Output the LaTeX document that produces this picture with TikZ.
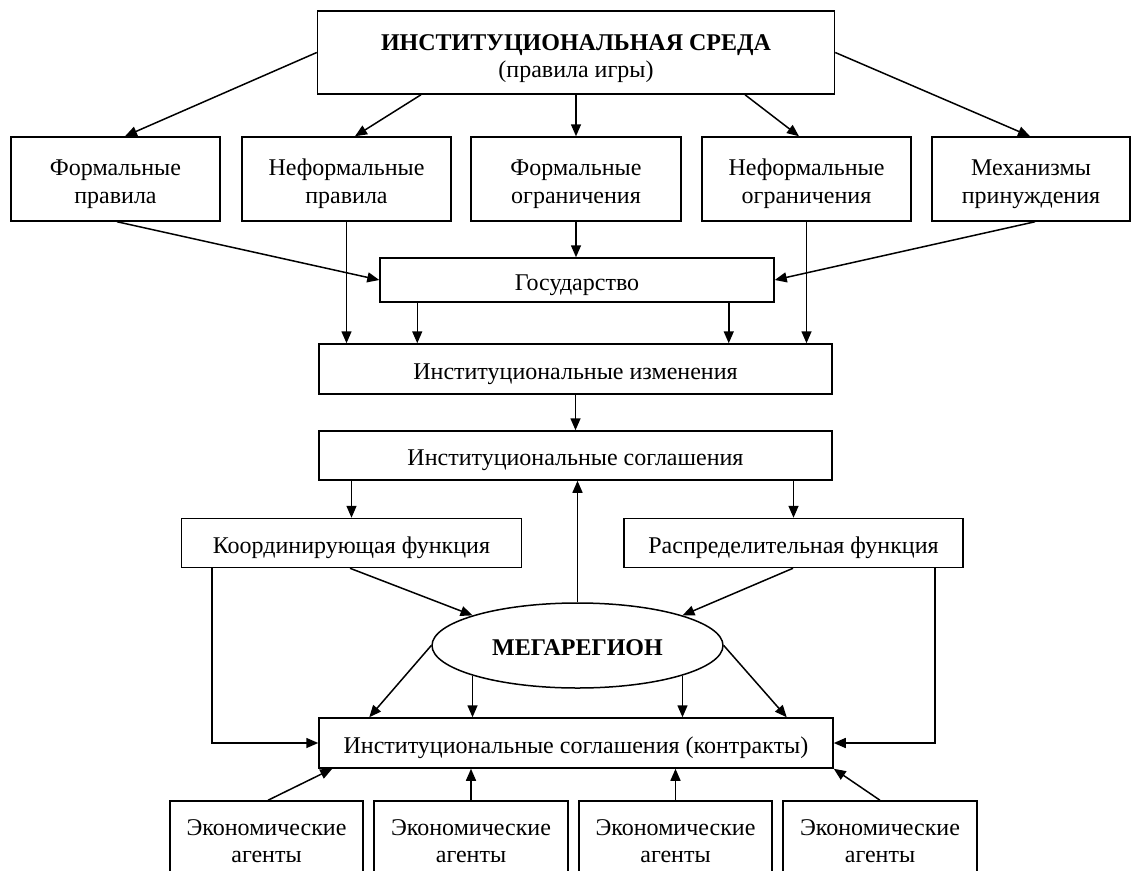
\documentclass[tikz,border=0pt]{standalone}
\usepackage{fontspec}
\setmainfont{Liberation Serif}
\usetikzlibrary{arrows.meta,shapes.geometric}
\newcommand{\lowtxt}[2][5pt]{\raisebox{-#1}[\height][\depth]{#2}}
\begin{document}
\begin{tikzpicture}[x=1pt,y=-1pt,
  bx/.style={draw, line width=1.5pt, inner sep=0pt, align=center, font=\fontsize{24}{27.6}\selectfont},
  ar/.style={-{Triangle[length=12pt,width=10pt]}, line width=1.5pt}]
\fill[white] (0,0) rectangle (1132,870);
\clip (0,0) rectangle (1132,870);

\node[bx, minimum width=517pt, minimum height=83pt] (top) at (576,52.5)
  {\lowtxt[6pt]{\bfseries ИНСТИТУЦИОНАЛЬНАЯ СРЕДА}\\\lowtxt[6pt]{(правила игры)}};

\node[bx, minimum width=209pt, minimum height=84pt] (b1) at (115.5,179) {\lowtxt{Формальные}\\\lowtxt{правила}};
\node[bx, minimum width=209pt, minimum height=84pt] (b2) at (346.5,179) {\lowtxt{Неформальные}\\\lowtxt{правила}};
\node[bx, minimum width=210pt, minimum height=84pt] (b3) at (576,179) {\lowtxt{Формальные}\\\lowtxt{ограничения}};
\node[bx, minimum width=209pt, minimum height=84pt] (b4) at (806.5,179) {\lowtxt{Неформальные}\\\lowtxt{ограничения}};
\node[bx, minimum width=198pt, minimum height=84pt] (b5) at (1031,179) {\lowtxt{Механизмы}\\\lowtxt{принуждения}};

\node[bx, minimum width=394pt, minimum height=44pt] (gos) at (577,280) {\lowtxt{Государство}};
\node[bx, minimum width=513pt, minimum height=50pt] (ii) at (575.5,369) {\lowtxt{Институциональные изменения}};
\node[bx, minimum width=513pt, minimum height=49pt] (is) at (575.5,455.5) {\lowtxt{Институциональные соглашения}};

\node[bx, minimum width=340pt, minimum height=49pt] (koord) at (351.5,543) {\lowtxt{Координирующая функция}};
\node[bx, minimum width=339pt, minimum height=49pt] (raspr) at (793.5,543) {\lowtxt{Распределительная функция}};

\node[bx, ellipse, minimum width=291pt, minimum height=85pt] (mega) at (577.5,645.5) {\lowtxt[2pt]{\bfseries МЕГАРЕГИОН}};

\node[bx, minimum width=514pt, minimum height=50pt] (ik) at (576,743) {\lowtxt{Институциональные соглашения (контракты)}};

\node[bx, minimum width=193pt, minimum height=74pt] (e1) at (266.5,838) {\lowtxt[3pt]{Экономические}\\\lowtxt[3pt]{агенты}};
\node[bx, minimum width=194pt, minimum height=74pt] (e2) at (471,838) {\lowtxt[3pt]{Экономические}\\\lowtxt[3pt]{агенты}};
\node[bx, minimum width=193pt, minimum height=74pt] (e3) at (675.5,838) {\lowtxt[3pt]{Экономические}\\\lowtxt[3pt]{агенты}};
\node[bx, minimum width=194pt, minimum height=74pt] (e4) at (880,838) {\lowtxt[3pt]{Экономические}\\\lowtxt[3pt]{агенты}};

% top level
\draw[ar] (top.west) -- ([xshift=9.5pt]b1.north);
\draw[ar] ([xshift=-155pt]top.south) -- ([xshift=8.5pt]b2.north);
\draw[ar] (top.south) -- (top.south |- b3.north);
\draw[ar] ([xshift=169pt]top.south) -- ([xshift=-7.5pt]b4.north);
\draw[ar] (top.east) -- ([xshift=-1pt]b5.north);

% row 2 to state / changes
\draw[ar] ([xshift=1.5pt]b1.south) -- (gos.west);
\draw[ar] (b2.south) -- (b2.south |- ii.north);
\draw[ar] (b3.south) -- (b3.south |- gos.north);
\draw[ar] (b4.south) -- (b4.south |- ii.north);
\draw[ar] ([xshift=4pt]b5.south) -- (gos.east);

\draw[ar] ([xshift=38pt]gos.south west) -- ([xshift=38pt]gos.south west |- ii.north);
\draw[ar] ([xshift=-46pt]gos.south east) -- ([xshift=-46pt]gos.south east |- ii.north);

\draw[ar] (ii.south) -- (ii.south |- is.north);

\draw[ar] (koord.north |- is.south) -- (koord.north);
\draw[ar] (raspr.north |- is.south) -- (raspr.north);
\draw[ar] (mega.north) -- (mega.north |- is.south);

\draw[ar] ([xshift=-1.5pt]koord.south) -- (mega.164);
\draw[ar] ([xshift=-0.5pt]raspr.south) -- (mega.16);

\draw[ar] (mega.west) -- ([xshift=51pt]ik.north west);
\draw[ar] (mega.196) -- (mega.196 |- ik.north);
\draw[ar] (mega.344) -- (mega.344 |- ik.north);
\draw[ar] (mega.east) -- ([xshift=-47pt]ik.north east);

\draw[ar] ([xshift=31pt]koord.south west) |- (ik.west);
\draw[ar] ([xshift=-29pt]raspr.south east) |- (ik.east);

\draw[ar] ([xshift=1.5pt]e1.north) -- ([xshift=14pt]ik.south west);
\draw[ar] (e2.north) -- (e2.north |- ik.south);
\draw[ar] (e3.north) -- (e3.north |- ik.south);
\draw[ar] (e4.north) -- (ik.south east);
\end{tikzpicture}
\end{document}
